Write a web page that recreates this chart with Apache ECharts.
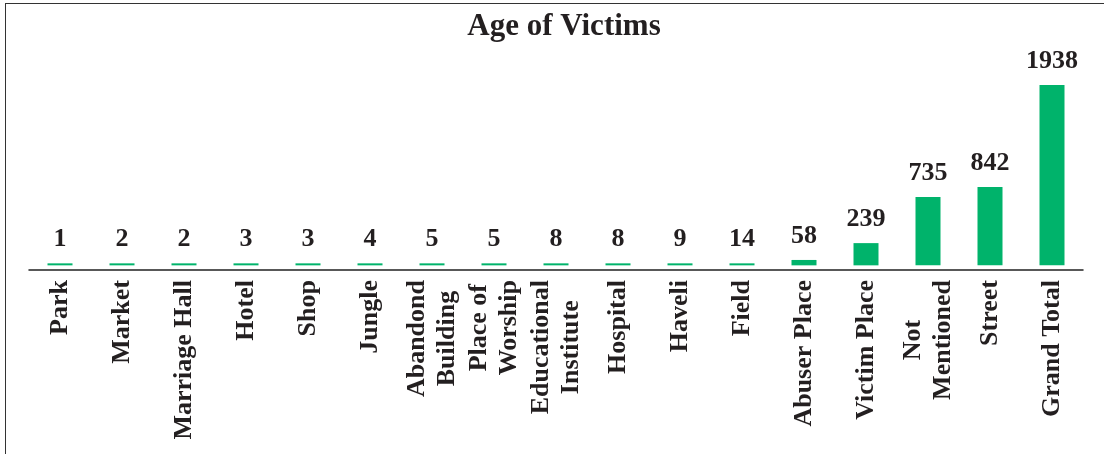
<!DOCTYPE html>
<html>
<head>
<meta charset="utf-8">
<script src="https://cdn.jsdelivr.net/npm/echarts@6/dist/echarts.min.js"></script>
<style>
    html, body { margin: 0; padding: 0; background: #fff; }
    #frame {
        position: absolute; left: 5px; top: 3px; right: 0; bottom: 0;
        border-top: 1.5px solid #333; border-left: 1.5px solid #333;
    }
    #chart { position: absolute; left: 0; top: 0; width: 1104px; height: 454px; }
</style>
</head>
<body>
<div id="frame"></div>
<div id="chart"></div>
<script>
    // place categories, left to right
    const places = ['Park', 'Market', 'Marriage Hall', 'Hotel', 'Shop', 'Jungle',
        'Abandond\nBuilding', 'Place of\nWorship', 'Educational\nInstitute', 'Hospital',
        'Haveli', 'Field', 'Abuser Place', 'Victim Place', 'Not\nMentioned', 'Street', 'Grand Total']
    const victims = [1, 2, 2, 3, 3, 4, 5, 5, 8, 8, 9, 14, 58, 239, 735, 842, 1938]

    const font = 'Liberation Serif'
    const ink = '#231f20'

    let chart = echarts.init(document.getElementById('chart'))
    let option = {
        animation: false,
        title: {
            text: 'Age of Victims',
            left: 559,
            textAlign: 'center',
            top: 6,
            textStyle: {fontFamily: font, fontSize: 31, fontWeight: 'bold', color: ink}
        },
        grid: {left: 29, right: 21, top: 70, height: 200},
        xAxis: {
            type: 'category',
            data: places,
            axisLine: {onZero: false, lineStyle: {color: '#222', width: 1.5}},
            axisTick: {show: false},
            axisLabel: {
                interval: 0,
                rotate: 90,
                margin: 10,
                // keep lines of two-line labels centred on each other
                formatter: v => v.split('\n').map(s => '{c|' + s + '}').join('\n'),
                rich: {
                    c: {align: 'center', fontFamily: font, fontSize: 26, fontWeight: 'bold',
                        lineHeight: 30, color: ink}
                }
            }
        },
        yAxis: {
            type: 'value',
            min: -50,
            max: 2100,
            show: false,
            splitLine: {show: false}
        },
        series: [
            {
                type: 'bar',
                data: victims,
                barWidth: 25,
                barMinHeight: 2,
                itemStyle: {color: '#00b36b'},
                label: {
                    show: true,
                    position: 'top',
                    distance: 11,
                    fontFamily: font,
                    fontSize: 26,
                    fontWeight: 'bold',
                    color: ink
                }
            }
        ]
    }
    chart.setOption(option)
</script>
</body>
</html>
